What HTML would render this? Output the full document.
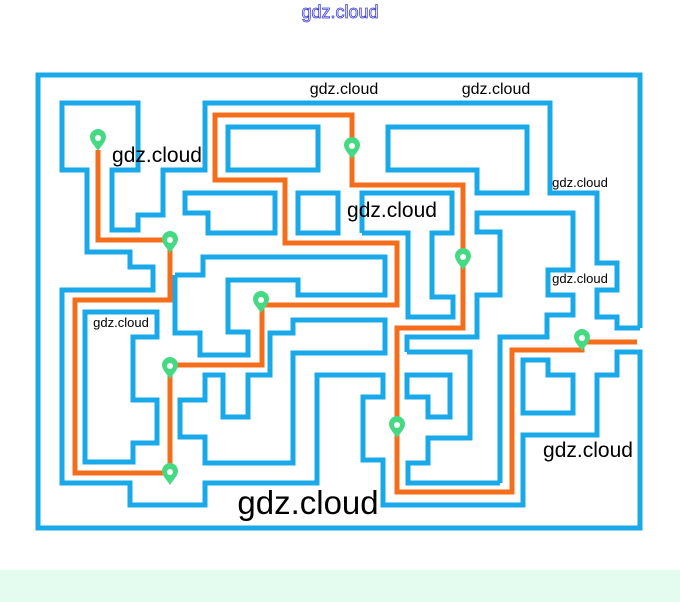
<!DOCTYPE html>
<html><head><meta charset="utf-8"><style>
html,body{margin:0;padding:0;background:#fff;width:680px;height:602px;overflow:hidden}
svg{display:block}
text{font-family:"Liberation Sans",sans-serif;fill:#000}
</style></head><body>
<svg width="680" height="602" viewBox="0 0 680 602" xmlns="http://www.w3.org/2000/svg">
<rect x="0" y="570" width="680" height="32" fill="#e3fcef"/>
<text x="340" y="18" text-anchor="middle" font-size="18" style="fill:#fff;stroke:#3b3bd6;stroke-width:0.8">gdz.cloud</text>
<g fill="none" stroke="#1aa9e8" stroke-width="5" stroke-linejoin="miter">
<polyline points="640,328 640,75 38,75 38,528 640,528 640,352 617,352 617,375 597,375 597,435 523,435 523,505 383,505 383,460 363,460 363,397 383,397 383,375 317,375 317,483 205,483 205,505 130,505 130,483 62,483 62,290 153,290 153,267 130,267 130,252 87,252 87,170 62,170 62,103 138,103 138,170 112,170 112,230 138,230 138,215 163,215 163,170 205,170 205,103 550,103 550,193 597,193 597,263 617,263 617,290 597,290 597,317 617,317 617,328 640,328"/>
<rect x="228" y="127" width="90" height="43"/>
<polygon points="185,193 275,193 275,233 208,233 208,213 185,213"/>
<rect x="298" y="193" width="40" height="40"/>
<polygon points="388,127 527,127 527,193 477,193 477,170 388,170"/>
<polyline points="362,233 362,193 452,193 452,233 432,233 432,297 453,297 453,317 408,317 408,233 362,233"/>
<polyline points="407,352 407,337 477,337 477,295 500,295 500,232 477,232 477,213 573,213 573,270 548,270 548,295 573,295 573,315 547,315 547,337 500,337 500,483"/>
<polyline points="407,352 470,352 470,438 428,438 428,463 408,463 408,483 500,483"/>
<polygon points="523,360 548,360 548,375 573,375 573,413 523,413"/>
<polygon points="407,375 450,375 450,417 428,417 428,397 407,397"/>
<polygon points="85,312 157,312 157,337 133,337 133,400 157,400 157,443 133,443 133,462 85,462"/>
<polyline points="175,275 175,333 200,333 200,355 248,355 248,332 228,332 228,280 298,280 298,295 385,295 385,257 203,257 203,275 175,275"/>
<polyline points="270,367 270,333 293,333 293,320 385,320 385,353 293,353 293,463 205,463 205,437 180,437 180,400 205,400 205,375 223,375 223,417 248,417 248,375 270,375 270,367"/>
</g>
<g fill="none" stroke="#f46d1b" stroke-width="5" stroke-linejoin="miter">
<polyline points="98,150 98,240 170,240 170,300 75,300 75,473 170,473"/>
<polyline points="170,365 170,473"/>
<polyline points="170,365 262,365 262,305 397,305 397,243 285,243 285,180 215,180 215,115 352,115 352,185 463,185 463,328 397,328 397,492 512,492 512,350 582,350 582,342 637,342"/>
</g>
<g fill="#46d983">
<g transform="translate(98,138)"><path d="M0,13 C-3,8 -8,4 -8,-1 A8,8 0 1 1 8,-1 C8,4 3,8 0,13Z"/><circle r="3" fill="#fff"/></g>
<g transform="translate(170,240)"><path d="M0,13 C-3,8 -8,4 -8,-1 A8,8 0 1 1 8,-1 C8,4 3,8 0,13Z"/><circle r="3" fill="#fff"/></g>
<g transform="translate(352,146)"><path d="M0,13 C-3,8 -8,4 -8,-1 A8,8 0 1 1 8,-1 C8,4 3,8 0,13Z"/><circle r="3" fill="#fff"/></g>
<g transform="translate(463,257)"><path d="M0,13 C-3,8 -8,4 -8,-1 A8,8 0 1 1 8,-1 C8,4 3,8 0,13Z"/><circle r="3" fill="#fff"/></g>
<g transform="translate(261,300)"><path d="M0,13 C-3,8 -8,4 -8,-1 A8,8 0 1 1 8,-1 C8,4 3,8 0,13Z"/><circle r="3" fill="#fff"/></g>
<g transform="translate(170,366)"><path d="M0,13 C-3,8 -8,4 -8,-1 A8,8 0 1 1 8,-1 C8,4 3,8 0,13Z"/><circle r="3" fill="#fff"/></g>
<g transform="translate(170,472)"><path d="M0,13 C-3,8 -8,4 -8,-1 A8,8 0 1 1 8,-1 C8,4 3,8 0,13Z"/><circle r="3" fill="#fff"/></g>
<g transform="translate(397,425)"><path d="M0,13 C-3,8 -8,4 -8,-1 A8,8 0 1 1 8,-1 C8,4 3,8 0,13Z"/><circle r="3" fill="#fff"/></g>
<g transform="translate(582,338)"><path d="M0,13 C-3,8 -8,4 -8,-1 A8,8 0 1 1 8,-1 C8,4 3,8 0,13Z"/><circle r="3" fill="#fff"/></g>
</g>
<text x="344" y="94" text-anchor="middle" font-size="16">gdz.cloud</text>
<text x="496" y="94" text-anchor="middle" font-size="16">gdz.cloud</text>
<text x="157" y="162" text-anchor="middle" font-size="21">gdz.cloud</text>
<text x="392" y="217" text-anchor="middle" font-size="21">gdz.cloud</text>
<text x="580" y="187" text-anchor="middle" font-size="13">gdz.cloud</text>
<text x="580" y="283" text-anchor="middle" font-size="13">gdz.cloud</text>
<text x="121" y="327" text-anchor="middle" font-size="13">gdz.cloud</text>
<text x="588" y="457" text-anchor="middle" font-size="21">gdz.cloud</text>
<text x="308" y="514" text-anchor="middle" font-size="33">gdz.cloud</text>
</svg>
</body></html>
